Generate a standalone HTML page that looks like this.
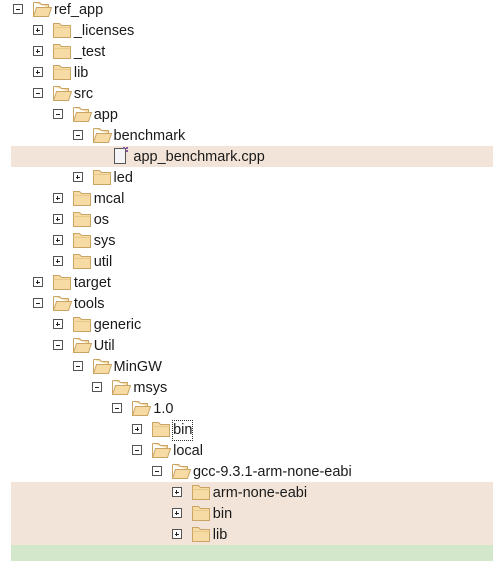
<!DOCTYPE html>
<html><head><meta charset="utf-8"><style>
html,body{margin:0;padding:0;width:493px;height:561px;background:#fff;overflow:hidden;position:relative;font-family:"Segoe UI","Liberation Sans","DejaVu Sans",sans-serif;}
.band{position:absolute;left:11px;right:0;background:#f2e4d8;}
.r{position:absolute;height:21px;left:0;right:0;}
.ex{position:absolute;top:5px;width:8px;height:8px;border:1px solid #555;background:#fff;}
.ex:before{content:"";position:absolute;left:2px;top:3.5px;width:4px;height:1px;background:#222;}
.ex.p:after{content:"";position:absolute;left:3.5px;top:2px;width:1px;height:4px;background:#222;}
.ic{position:absolute;top:1px;width:20px;height:18px;}
.t{position:absolute;top:2px;font-size:14.5px;line-height:19px;color:#1a1a1a;white-space:nowrap;}
.foc{outline:1px dotted #333;outline-offset:0;}
</style></head><body>
<div class="band" style="top:146px;height:21px"></div>
<div class="band" style="top:482px;height:63px"></div>
<div class="band" style="top:545px;height:16px;background:#d3e7cb"></div>

<svg width="0" height="0" style="position:absolute">
<defs>
<symbol id="fc" viewBox="0 0 20 18"><path d="M1.5 2.5h6l2 2h9v12h-17z" fill="#f6dca4" stroke="#c9a465"/><path d="M1.5 6.5h17" stroke="#e8c98a"/></symbol>
<symbol id="fo" viewBox="0 0 20 18"><path d="M1.5 2.5h6l2 2h7v3" fill="#f6dca4" stroke="#c9a465"/><path d="M1.5 2.5v14h15l3-9h-15l-3 9" fill="#f6dca4" stroke="#c9a465"/></symbol>
<symbol id="ff" viewBox="0 0 20 18"><path d="M3.5 1.5h11v15h-11z" fill="#f4f4f6" stroke="#555"/><rect x="12" y="0" width="2" height="2" fill="#8a5aa8"/><rect x="15" y="0" width="2" height="2" fill="#8a5aa8"/><rect x="15" y="3" width="2" height="2" fill="#8a5aa8"/></symbol>
</defs></svg>

<div id="tree"></div>
<script>
var rows=[
[0,'m','o','ref_app'],[1,'p','c','_licenses'],[1,'p','c','_test'],[1,'p','c','lib'],[1,'m','o','src'],
[2,'m','o','app'],[3,'m','o','benchmark'],[4,'','f','app_benchmark.cpp'],[3,'p','c','led'],
[2,'p','c','mcal'],[2,'p','c','os'],[2,'p','c','sys'],[2,'p','c','util'],
[1,'p','c','target'],[1,'m','o','tools'],[2,'p','c','generic'],[2,'m','o','Util'],
[3,'m','o','MinGW'],[4,'m','o','msys'],[5,'m','o','1.0'],[6,'p','c','bin',1],[6,'m','o','local'],
[7,'m','o','gcc-9.3.1-arm-none-eabi'],[8,'p','c','arm-none-eabi'],[8,'p','c','bin'],[8,'p','c','lib']];
var h='';
rows.forEach(function(r,i){
 var L=r[0],top=21*i-1,ind=19.85*L;
 h+='<div class="r" style="top:'+top+'px">';
 if(r[1]) h+='<div class="ex '+(r[1]=='p'?'p':'')+'" style="left:'+(13+ind)+'px"></div>';
 var ic=r[2]=='o'?'fo':r[2]=='c'?'fc':'ff';
 h+='<svg class="ic" style="left:'+(32+ind)+'px" viewBox="0 0 20 18"><use href="#'+ic+'"/></svg>';
 h+='<span class="t'+(r[4]?' foc':'')+'" style="left:'+(54+ind)+'px">'+r[3]+'</span></div>';
});
document.getElementById('tree').innerHTML=h;
</script>
</body></html>
